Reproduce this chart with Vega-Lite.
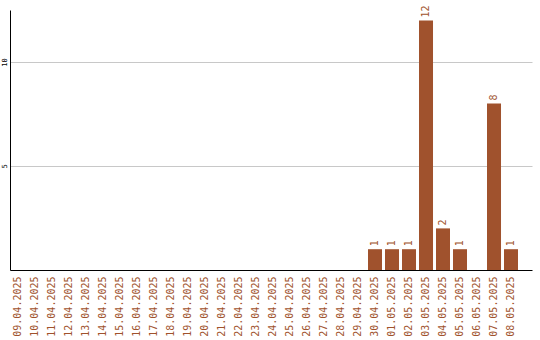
{
  "$schema": "https://vega.github.io/schema/vega-lite/v6.json",
  "autosize": "none",
  "width": 522,
  "height": 260,
  "padding": {"left": 10, "top": 10, "right": 8, "bottom": 70},
  "background": "white",
  "config": {"view": {"stroke": null}},
  "data": {"values": [
    {"date": "09.04.2025", "value": 0},
    {"date": "10.04.2025", "value": 0},
    {"date": "11.04.2025", "value": 0},
    {"date": "12.04.2025", "value": 0},
    {"date": "13.04.2025", "value": 0},
    {"date": "14.04.2025", "value": 0},
    {"date": "15.04.2025", "value": 0},
    {"date": "16.04.2025", "value": 0},
    {"date": "17.04.2025", "value": 0},
    {"date": "18.04.2025", "value": 0},
    {"date": "19.04.2025", "value": 0},
    {"date": "20.04.2025", "value": 0},
    {"date": "21.04.2025", "value": 0},
    {"date": "22.04.2025", "value": 0},
    {"date": "23.04.2025", "value": 0},
    {"date": "24.04.2025", "value": 0},
    {"date": "25.04.2025", "value": 0},
    {"date": "26.04.2025", "value": 0},
    {"date": "27.04.2025", "value": 0},
    {"date": "28.04.2025", "value": 0},
    {"date": "29.04.2025", "value": 0},
    {"date": "30.04.2025", "value": 1},
    {"date": "01.05.2025", "value": 1},
    {"date": "02.05.2025", "value": 1},
    {"date": "03.05.2025", "value": 12},
    {"date": "04.05.2025", "value": 2},
    {"date": "05.05.2025", "value": 1},
    {"date": "06.05.2025", "value": 0},
    {"date": "07.05.2025", "value": 8},
    {"date": "08.05.2025", "value": 1}
  ]},
  "encoding": {
    "x": {
      "field": "date", "type": "nominal", "sort": null,
      "scale": {"paddingInner": 0.176, "paddingOuter": 0.441, "align": 0.067},
      "axis": {
        "title": null, "ticks": false, "labelAngle": 270, "labelPadding": 6,
        "labelFont": "DejaVu Sans Mono", "labelFontSize": 10, "labelColor": "#a0522d",
        "domainColor": "#000000", "domainWidth": 1, "grid": false
      }
    },
    "y": {
      "field": "value", "type": "quantitative",
      "scale": {"domain": [0, 12.5], "nice": false},
      "axis": {
        "title": null, "ticks": false, "values": [5, 10], "labelAngle": 270,
        "labelPadding": 3, "labelFont": "DejaVu Sans Mono", "labelFontSize": 7,
        "labelColor": "#000000", "domainColor": "#000000", "domainWidth": 1,
        "grid": true, "gridColor": "#c8c8c8", "gridWidth": 1
      }
    }
  },
  "layer": [
    {"mark": {"type": "bar", "color": "#a0522d"}},
    {
      "transform": [{"filter": "datum.value > 0"}],
      "mark": {"type": "text", "angle": 270, "align": "left", "baseline": "middle", "dx": 3,
               "font": "DejaVu Sans Mono", "fontSize": 10, "color": "#a0522d"},
      "encoding": {"text": {"field": "value", "type": "quantitative"}}
    }
  ]
}
